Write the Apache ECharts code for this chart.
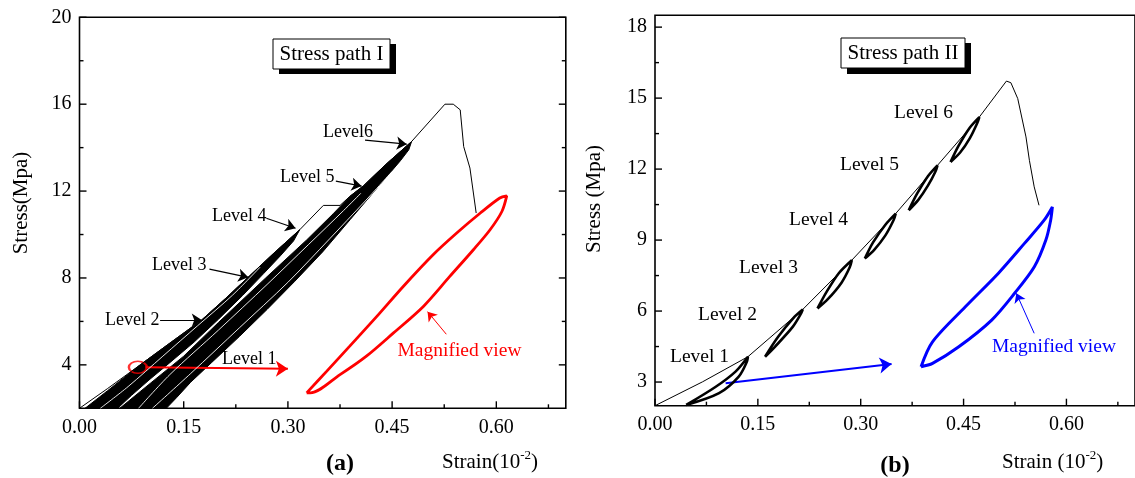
<!DOCTYPE html>
<html><head><meta charset="utf-8">
<script src="https://cdn.jsdelivr.net/npm/echarts@6/dist/echarts.min.js"></script>
<style>html,body{margin:0;padding:0;background:#fff}#c{width:1135px;height:478px}</style>
</head><body><div id="c"></div>
<script>
// ---------- tick labels ----------
const xTickValues = [0, 0.15, 0.30, 0.45, 0.60];
const xMinorValues = [0.075, 0.225, 0.375, 0.525, 0.675];
const yTickValuesI = [4, 8, 12, 16, 20];
const yMinorValuesI = [6, 10, 14, 18];
const yTickValuesII = [3, 6, 9, 12, 15, 18];
const yMinorValuesII = [4.5, 7.5, 10.5, 13.5, 16.5];

// ---------- Stress path I (panel a) ----------
const envelopeI = [[0,2],[0.04,2.9],[0.084,3.92],[0.13,5.0],[0.176,6.07],[0.21,7.05],[0.245,8.1],[0.28,9.15],[0.317,10.22],
  [0.351,11.34],[0.375,11.34],[0.389,11.75],[0.409,12.25],[0.44,13.2],[0.478,14.28],[0.526,16.0],[0.538,16.0],
  [0.548,15.74],[0.553,14.05],[0.562,13.06],[0.571,10.99]];
// cycles of levels 1-4 (outline of the overlapping loops)
const bandLevels1to4 = [[0.008,2],[0.04,2.8],[0.084,3.92],[0.13,5.0],[0.176,6.07],[0.21,7.05],[0.245,8.1],[0.28,9.15],[0.317,10.22],
  [0.308,9.7],[0.29,9.05],[0.265,8.2],[0.235,7.2],[0.20,6.1],[0.165,5.05],[0.13,4.1],[0.10,3.3],[0.075,2.6],[0.055,2]];
// cycles of levels 5-6
const bandLevels5to6 = [[0.058,2],[0.10,3.1],[0.15,4.4],[0.20,5.95],[0.268,8.0],[0.327,9.75],[0.365,10.95],[0.389,11.75],
  [0.409,12.25],[0.44,13.2],[0.478,14.28],[0.474,13.9],[0.462,13.4],[0.43,12.2],[0.39,10.7],[0.35,9.2],[0.31,7.85],
  [0.27,6.55],[0.23,5.3],[0.19,4.1],[0.16,3.2],[0.14,2.5],[0.125,2]];
// gaps between individual cycles
const gapLinesI = [
  [[0.03,2],[0.07,3.0],[0.12,4.4],[0.17,5.8],[0.22,7.2],[0.26,8.5]],
  [[0.085,2],[0.13,3.55],[0.20,5.6],[0.27,7.7],[0.33,9.55],[0.38,11.1],[0.405,11.9]],
  [[0.105,2],[0.16,3.6],[0.23,5.7],[0.30,7.8],[0.36,9.8],[0.41,11.5],[0.45,12.9]]
];
// magnified cycle (red)
const magnifiedI = [[0.327,2.71],[0.356,3.71],[0.389,4.86],[0.428,6.23],[0.466,7.61],[0.509,9.07],[0.543,10.07],[0.577,10.99],
  [0.605,11.68],[0.615,11.78],[0.615,11.75],[0.608,11.06],[0.591,10.22],[0.567,9.3],[0.533,8.07],[0.495,6.69],[0.452,5.47],
  [0.413,4.4],[0.375,3.55],[0.332,2.71],[0.327,2.71]];
const levelArrowsI = [
  [[0.116,6.06],[0.176,6.06]],
  [[0.187,8.41],[0.243,8.03]],
  [[0.269,10.75],[0.311,10.29]],
  [[0.369,12.46],[0.406,12.23]],
  [[0.411,14.35],[0.471,14.16]]
];
const redArrowI = [[0.095,3.89],[0.30,3.82]];
const magArrowI = [[0.528,5.41],[0.501,6.45]];
const circleI = [[0.084,3.89]];

// ---------- Stress path II (panel b) ----------
const envelopeII = [[0,2],[0.0694,3.01],[0.1355,4.07],[0.2155,6.07],[0.287,8.15],[0.351,10.12],[0.412,12.16],[0.473,14.2],
  [0.5125,15.72],[0.519,15.65],[0.529,14.98],[0.541,13.36],[0.546,12.37],[0.553,11.25],[0.560,10.47]];
const loopLevel1 = [[0.0455,2.03],[0.0886,2.80],[0.1174,3.44],[0.1355,4.07],[0.134,3.86],[0.1221,3.23],[0.0934,2.53],[0.0455,2.03]];
const loopLevel2 = [[0.1605,4.07],[0.1796,4.91],[0.2036,5.76],[0.2155,6.07],[0.2131,5.90],[0.2011,5.34],[0.1749,4.49],[0.1605,4.07]];
const loopLevel3 = [[0.237,6.11],[0.250,6.8],[0.268,7.6],[0.287,8.15],[0.284,7.85],[0.272,7.2],[0.252,6.5],[0.237,6.11]];
const loopLevel4 = [[0.306,8.22],[0.318,8.9],[0.336,9.65],[0.351,10.12],[0.348,9.85],[0.336,9.2],[0.32,8.6],[0.306,8.22]];
const loopLevel5 = [[0.370,10.26],[0.382,10.95],[0.398,11.7],[0.412,12.16],[0.409,11.9],[0.398,11.3],[0.384,10.7],[0.370,10.26]];
const loopLevel6 = [[0.431,12.3],[0.443,13.0],[0.459,13.75],[0.473,14.2],[0.470,13.95],[0.459,13.3],[0.445,12.7],[0.431,12.3]];
const magnifiedII = [[0.388,3.65],[0.4047,4.70],[0.4526,6.18],[0.5005,7.59],[0.5388,8.86],[0.5675,9.84],[0.5795,10.4],
  [0.577,9.84],[0.570,9.0],[0.5532,7.87],[0.5244,6.75],[0.491,5.62],[0.443,4.49],[0.4047,3.79],[0.388,3.65]];
const blueArrowII = [[0.103,2.95],[0.345,3.76]];
const magArrowII = [[0.553,5.06],[0.527,6.75]];

// ---------- chart ----------
const FONT = '"Liberation Serif", "Times New Roman", serif';
const chart = echarts.init(document.getElementById('c'), null, {renderer: 'canvas'});

const frame = {show: true, borderColor: '#000', borderWidth: 1.6, backgroundColor: 'rgba(0,0,0,0)'};
const grids = [
  Object.assign({left: 79.5, right: 569.2, top: 17.3, bottom: 69.7}, frame),
  Object.assign({left: 655, right: -7, top: 15.3, bottom: 72.3}, frame)
];
const XR = [0, 0.7];
const YR_I = [2, 20], YR_II = [2, 18.5];
function xAxisFor(gi) {
  return {gridIndex: gi, type: 'value', min: XR[0], max: XR[1], axisLine: {show: false, onZero: false}, axisTick: {show: false},
    axisLabel: {customValues: xTickValues, formatter: v => v.toFixed(2), color: '#000', fontFamily: FONT, fontSize: 20, margin: 9},
    splitLine: {show: false}};
}
function yAxisFor(gi, yr, vals) {
  return {gridIndex: gi, type: 'value', min: yr[0], max: yr[1], axisLine: {show: false, onZero: false}, axisTick: {show: false},
    axisLabel: {customValues: vals, color: '#000', fontFamily: FONT, fontSize: 20, margin: 8}, splitLine: {show: false}};
}
const xAxes = [xAxisFor(0), xAxisFor(1)];
const yAxes = [yAxisFor(0, YR_I, yTickValuesI), yAxisFor(1, YR_II, yTickValuesII)];
const A = {x: 0, y: 0}, B = {x: 1, y: 1};

// inward tick marks placed through the axes' scales
function tickSeries(ax, vals, dim, side, len, yr) {
  const pts = vals.map(v => dim === 'x' ? [v, yr[0]] : [side === 'left' ? XR[0] : XR[1], v]);
  return {type: 'custom', xAxisIndex: ax.x, yAxisIndex: ax.y, data: pts, silent: true, clip: false, z: 10,
    renderItem: function (params, api) {
      const p = api.coord([api.value(0), api.value(1)]);
      const d = dim === 'x' ? [0, -len] : [side === 'left' ? len : -len, 0];
      return {type: 'line', shape: {x1: p[0], y1: p[1], x2: p[0] + d[0], y2: p[1] + d[1]},
        style: {stroke: '#000', lineWidth: 1.4}};
    }};
}
function polygonSeries(ax, pts, color) {
  return {type: 'custom', xAxisIndex: ax.x, yAxisIndex: ax.y, data: pts, silent: true,
    renderItem: function (params, api) {
      if (params.dataIndex !== 0) return null;
      return {type: 'polygon', shape: {points: pts.map(p => api.coord(p))}, style: {fill: color, stroke: color, lineWidth: 1, lineJoin: 'round'}};
    }};
}
function lineSeries(ax, pts, color, width, smooth) {
  return {type: 'line', xAxisIndex: ax.x, yAxisIndex: ax.y, data: pts, showSymbol: false, symbol: 'none',
    smooth: smooth || false, lineStyle: {color: color, width: width}, silent: true, animation: false};
}
function arrowSeries(ax, list, color, width, size) {
  return {type: 'lines', coordinateSystem: 'cartesian2d', xAxisIndex: ax.x, yAxisIndex: ax.y,
    symbol: ['none', 'arrow'], symbolSize: size, lineStyle: {color: color, width: width, opacity: 1},
    data: list.map(c => ({coords: c})), silent: true, animation: false};
}

const series = [
  tickSeries(A, xTickValues, 'x', 'bottom', 7, YR_I),
  tickSeries(A, xMinorValues, 'x', 'bottom', 4, YR_I),
  tickSeries(A, yTickValuesI, 'y', 'left', 7, YR_I),
  tickSeries(A, yMinorValuesI, 'y', 'left', 4, YR_I),
  tickSeries(A, yTickValuesI, 'y', 'right', 7, YR_I),
  tickSeries(A, yMinorValuesI, 'y', 'right', 4, YR_I),
  tickSeries(B, xTickValues, 'x', 'bottom', 7, YR_II),
  tickSeries(B, xMinorValues, 'x', 'bottom', 4, YR_II),
  tickSeries(B, yTickValuesII, 'y', 'left', 7, YR_II),
  tickSeries(B, yMinorValuesII, 'y', 'left', 4, YR_II),

  polygonSeries(A, bandLevels1to4, '#000'),
  polygonSeries(A, bandLevels5to6, '#000'),
  ...gapLinesI.map(g => lineSeries(A, g, '#fff', 0.9, 0.3)),
  lineSeries(A, envelopeI, '#000', 1),
  lineSeries(A, magnifiedI, '#ff0000', 2.8, 0.3),
  arrowSeries(A, levelArrowsI, '#000', 1.2, 10),
  arrowSeries(A, [redArrowI], '#ff0000', 2, 12),
  arrowSeries(A, [magArrowI], '#ff0000', 1, 9),
  {type: 'scatter', xAxisIndex: A.x, yAxisIndex: A.y, data: circleI, symbol: 'circle', symbolSize: [18, 12],
    itemStyle: {color: 'rgba(0,0,0,0)', borderColor: '#ff0000', borderWidth: 2}, silent: true},

  lineSeries(B, envelopeII, '#000', 1),
  ...[loopLevel1, loopLevel2, loopLevel3, loopLevel4, loopLevel5, loopLevel6].map(l => lineSeries(B, l, '#000', 2.6, 0.3)),
  lineSeries(B, magnifiedII, '#0000ff', 3, 0.3),
  arrowSeries(B, [blueArrowII], '#0000ff', 2, 12),
  arrowSeries(B, [magArrowII], '#0000ff', 1, 9)
];

function txt(x, y, text, size, opts) {
  opts = opts || {};
  return {type: 'text', x: x, y: y, rotation: opts.rot || 0, z: 100,
    style: {text: text, fill: opts.color || '#000', font: (opts.weight || 'normal') + ' ' + size + 'px ' + FONT,
      textAlign: opts.align || 'left', textVerticalAlign: 'middle', rich: opts.rich}};
}
const supRich = {n: {fontFamily: FONT, fontSize: 21, color: '#000'}, s: {fontFamily: FONT, fontSize: 13, color: '#000', padding: [0, 0, 12, 0]}};

const graphics = [
  {type: 'rect', shape: {x: 279, y: 44, width: 117, height: 30}, style: {fill: '#000'}, z: 90},
  {type: 'rect', shape: {x: 273, y: 39, width: 117, height: 30}, style: {fill: '#fff', stroke: '#000', lineWidth: 1}, z: 91},
  txt(331.5, 54.5, 'Stress path I', 21, {align: 'center'}),
  {type: 'rect', shape: {x: 847, y: 43, width: 124, height: 31}, style: {fill: '#000'}, z: 90},
  {type: 'rect', shape: {x: 841, y: 38, width: 124, height: 30}, style: {fill: '#fff', stroke: '#000', lineWidth: 1}, z: 91},
  txt(903, 53.5, 'Stress path II', 21, {align: 'center'}),
  txt(373, 132, 'Level6', 18, {align: 'right'}),
  txt(280, 177, 'Level 5', 18),
  txt(212, 216, 'Level 4', 18),
  txt(152, 265, 'Level 3', 18),
  txt(105, 320, 'Level 2', 18),
  txt(222, 359, 'Level 1', 18),
  txt(397.5, 351, 'Magnified view', 19.5, {color: '#ff0000'}),
  txt(670, 357, 'Level 1', 19.5),
  txt(698, 315, 'Level 2', 19.5),
  txt(739, 268, 'Level 3', 19.5),
  txt(789, 220, 'Level 4', 19.5),
  txt(840, 165, 'Level 5', 19.5),
  txt(894, 113, 'Level 6', 19.5),
  txt(992, 347, 'Magnified view', 19.5, {color: '#0000ff'}),
  txt(21, 203, 'Stress(Mpa)', 21, {align: 'center', rot: Math.PI / 2}),
  txt(594, 199, 'Stress (Mpa)', 21, {align: 'center', rot: Math.PI / 2}),
  txt(442, 462, '{n|Strain(10}{s|-2}{n|)}', 21, {rich: supRich}),
  txt(1002, 462, '{n|Strain (10}{s|-2}{n|)}', 21, {rich: supRich}),
  txt(340, 464, '(a)', 24, {align: 'center', weight: 'bold'}),
  txt(895, 466, '(b)', 24, {align: 'center', weight: 'bold'})
];

chart.setOption({
  animation: false,
  backgroundColor: '#fff',
  grid: grids,
  xAxis: xAxes,
  yAxis: yAxes,
  series: series,
  graphic: graphics
});
</script></body></html>
